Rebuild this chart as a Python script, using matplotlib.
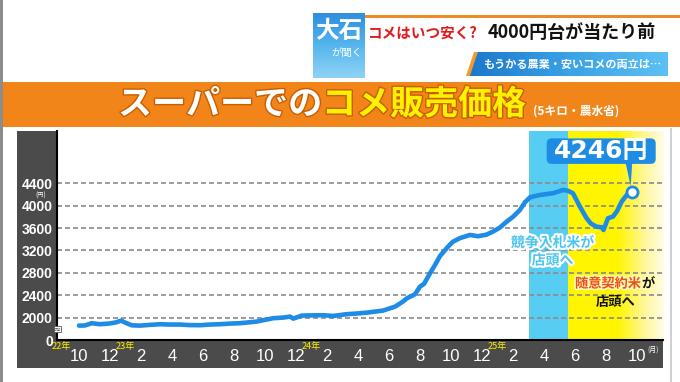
import matplotlib
matplotlib.use("Agg")
import matplotlib.pyplot as plt
import matplotlib.patheffects as pe
from matplotlib.patches import Rectangle, FancyBboxPatch, Polygon
from matplotlib.colors import LinearSegmentedColormap
import numpy as np

plt.rcParams['font.family'] = ['Noto Sans CJK JP', 'DejaVu Sans']

# months counted from Oct 2022 (0 = Oct 2022, 36 = Oct 2025)
month_pos = [0.0, 0.39, 0.82, 1.35, 1.97, 2.39, 2.71, 3.03, 3.42, 3.94,
             4.58, 5.23, 5.87, 6.52, 7.16, 7.81, 8.45, 9.10, 9.74, 10.39,
             11.46, 12.52, 13.16, 13.61, 13.83, 14.37, 15.03, 15.74, 16.39, 17.27,
             17.87, 18.56, 19.61, 20.39, 20.90, 21.16, 21.68, 22.00, 22.26, 22.65,
             22.97, 23.29, 23.81, 24.13, 24.58, 25.23, 25.74, 26.26, 26.71, 27.16,
             27.59, 28.0, 28.45, 28.77, 29.10, 29.74, 30.58, 30.90, 31.23, 31.55,
             31.87, 32.32, 32.75, 33.03, 33.39, 33.72, 33.84, 34.13, 34.45, 34.71,
             35.01, 35.34, 35.66]
# 5kg price in yen
prices = [1857, 1860, 1900, 1882, 1895, 1915, 1946, 1905, 1862, 1857,
          1870, 1882, 1876, 1876, 1866, 1864, 1876, 1882, 1893, 1900,
          1929, 1989, 2000, 2018, 1982, 2036, 2040, 2043, 2030, 2061,
          2072, 2089, 2125, 2196, 2286, 2346, 2418, 2554, 2602, 2793,
          2941, 3100, 3268, 3357, 3420, 3477, 3454, 3480, 3536, 3610,
          3714, 3800, 3924, 4060, 4150, 4191, 4222, 4250, 4281, 4265,
          4222, 3982, 3775, 3680, 3625, 3614, 3566, 3775, 3804, 3900,
          4071, 4191, 4246]

x_ticks = list(range(0, 37, 2))
x_labels = [str((9 + m) % 12 + 1) for m in x_ticks]
y_ticks = [1600, 2000, 2400, 2800, 3200, 3600, 4000, 4400]
y_labels = ['0', '2000', '2400', '2800', '3200', '3600', '4000', '4400']
year_labels = ['22年', '23年', '24年', '25年']
year_pos = [-1.15, 3, 15, 27]

# periods: bid rice in stores / contract rice in stores
bid_period = (29.03, 31.55)
contract_period = (31.55, 37.7)

BLUE = '#1E8BE4'
DARK = '#4B4B4B'

fig = plt.figure(figsize=(6.8, 3.82), dpi=100)

# background layer in pixel coordinates (y down)
bg = fig.add_axes([0, 0, 1, 1])
bg.set_xlim(0, 680)
bg.set_ylim(382, 0)
bg.axis('off')
bg.set_zorder(0)

bg.add_patch(Rectangle((0, 0), 2.5, 382, color='#8c8c8c', lw=0))
bg.add_patch(Rectangle((670, 128), 1.5, 254, color='#d0d0d0', lw=0))

# --- header ---
logo_grad = np.linspace(0, 1, 64).reshape(-1, 1)
logo_cmap = LinearSegmentedColormap.from_list('logo', ['#2E8EE0', '#56B6EE', '#8FD3F5'])
bg.imshow(logo_grad, extent=[313, 365, 78, 13], cmap=logo_cmap, aspect='auto', zorder=2)
bg.text(339, 31, '大石', color='white', fontsize=17, fontweight='bold',
        ha='center', va='center', zorder=3)
bg.text(347, 53, 'が聞く', color='white', fontsize=7.5, ha='center', va='center', zorder=3)

bg.add_patch(Rectangle((365, 15), 315, 2.5, color='#F08A24', lw=0, zorder=2))
bg.text(368, 33, 'コメはいつ安く?', color='#E11B1B', fontsize=10.5, fontweight='bold',
        ha='left', va='center', zorder=3)
bg.text(488, 33, '4000円台が当たり前', color='#111111', fontsize=13, fontweight='bold',
        ha='left', va='center', zorder=3)

bg.add_patch(Polygon([(466, 76), (474, 52), (480, 52), (472, 76)], closed=True,
                     color='#F39A2A', lw=0, zorder=2))
sub = Polygon([(478, 52), (668, 52), (668, 76), (470, 76)], closed=True,
              fc='#2A8FDB', lw=0, zorder=2)
bg.add_patch(sub)
sub_grad = np.linspace(0, 1, 64).reshape(1, -1)
sub_cmap = LinearSegmentedColormap.from_list('sub', ['#1C78CC', '#3AA2E6', '#5CC0F2'])
im = bg.imshow(sub_grad, extent=[470, 668, 76, 52], cmap=sub_cmap, aspect='auto', zorder=2)
im.set_clip_path(sub)
bg.text(572, 64.5, 'もうかる農業・安いコメの両立は…', color='white', fontsize=8,
        fontweight='bold', ha='center', va='center', zorder=3)

# --- orange banner ---
bg.add_patch(Rectangle((2.5, 82), 677.5, 45, color='#F28519', lw=0, zorder=1))
stroke = [pe.withStroke(linewidth=2, foreground='#C95E00')]
bg.text(322, 104, 'スーパーでの', color='white', fontsize=24.5, fontweight='bold',
        ha='right', va='center', zorder=3, path_effects=stroke)
bg.text(322, 104, 'コメ販売価格', color='#FFF200', fontsize=24.5, fontweight='bold',
        ha='left', va='center', zorder=3, path_effects=stroke)
bg.text(533, 111, '(5キロ・農水省)', color='white', fontsize=8.5, fontweight='bold',
        ha='left', va='center', zorder=3)

# --- dark axis panels ---
bg.add_patch(Rectangle((17, 131), 40, 237, color=DARK, lw=0, zorder=1))
bg.add_patch(Rectangle((17, 340), 646, 28, color=DARK, lw=0, zorder=1))

# --- chart ---
ax = fig.add_axes([57 / 680, (382 - 340) / 382, 606 / 680, 209 / 382])
ax.set_zorder(1)
ax.patch.set_alpha(0)

ax.axvspan(*bid_period, color='#58CDF3', lw=0, zorder=0.4)
yel_cmap = LinearSegmentedColormap.from_list(
    'yel', [(0, '#FFF500'), (0.52, '#FFF500'), (0.8, '#FFF79A'), (1, '#FFFCE6')])
ax.imshow(np.linspace(0, 1, 128).reshape(1, -1),
          extent=[contract_period[0], contract_period[1], 1600, 5334],
          cmap=yel_cmap, aspect='auto', zorder=0.4)

for v in y_ticks[1:]:
    ax.axhline(v, color='#8a8a8a', lw=1.2, dashes=(3, 1.8), zorder=1)

ax.plot(month_pos, prices, color=BLUE, lw=3.3, solid_capstyle='round',
        solid_joinstyle='round', zorder=3)
ax.plot(month_pos[-1], prices[-1], 'o', ms=8, mfc='white', mec=BLUE, mew=2, zorder=4)

ax.set_xlim(-1.42, 37.68)
ax.set_ylim(1600, 5334)
ax.set_xticks(x_ticks)
ax.set_xticklabels(x_labels, family=['Liberation Sans Narrow', 'Liberation Sans'],
                   fontsize=12, color='white')
ax.set_yticks(y_ticks)
ax.set_yticklabels(y_labels, family=['Liberation Sans', 'DejaVu Sans'],
                   fontsize=10, fontweight='bold', color='white')
ax.tick_params(axis='both', length=0)
ax.tick_params(axis='x', pad=6.5)
ax.tick_params(axis='y', pad=3)
for s in ['top', 'right']:
    ax.spines[s].set_visible(False)
ax.spines['left'].set_color('black')
ax.spines['bottom'].set_color('black')
ax.spines['left'].set_linewidth(1.5)
ax.spines['bottom'].set_linewidth(1.5)

# overlay layer in pixel coordinates
ov = fig.add_axes([0, 0, 1, 1])
ov.set_xlim(0, 680)
ov.set_ylim(382, 0)
ov.axis('off')
ov.set_zorder(3)
ov.patch.set_alpha(0)


def to_px(m, v):
    dx, dy = ax.transData.transform((m, v))
    return dx * 680 / fig.bbox.width, 382 - dy * 382 / fig.bbox.height


for lab, m in zip(year_labels, year_pos):
    xp, _ = to_px(m, 1600)
    ov.text(xp, 346, lab, color='#FFF200', fontsize=6.5, ha='center', va='center')
xp, _ = to_px(x_ticks[-1], 1600)
ov.text(xp + 16.5, 350, '(月)', color='white', fontsize=5, ha='center', va='center')
ov.text(41, 195.5, '(円)', color='white', fontsize=4.5, ha='center', va='center')

# axis break mark
_, yb = to_px(0, 1800)
ov.add_patch(Rectangle((53.5, yb - 3), 7, 6, fc='white', ec='#555555', lw=0.6))
ov.text(57, yb, '≈', color='#333333', fontsize=6, ha='center', va='center',
        family='DejaVu Sans')

# callout for last price
px, py = to_px(month_pos[-1], prices[-1])
ov.add_patch(FancyBboxPatch((px - 85, py - 53.5), 109, 25.5,
                            boxstyle='round,pad=0,rounding_size=5', fc=BLUE, lw=0))
ov.add_patch(Polygon([(px - 6, py - 29), (px + 0.5, py - 29), (px - 1, py - 5.5)],
                     closed=True, fc=BLUE, lw=0))
ov.text(px - 31, py - 40.5, f'{prices[-1]}円', color='white', fontsize=18,
        fontweight='bold', ha='center', va='center',
        family=['DejaVu Sans', 'Noto Sans CJK JP'])

# period annotations
white_stroke = [pe.withStroke(linewidth=3, foreground='white')]
bx, _ = to_px(bid_period[1] - 1.0, 1600)
ov.text(bx, 243, '競争入札米が', color='#4CC4EE', fontsize=10, fontweight='bold',
        ha='center', va='center', path_effects=white_stroke)
ov.text(bx, 260.5, '店頭へ', color='#4CC4EE', fontsize=10, fontweight='bold',
        ha='center', va='center', path_effects=white_stroke)

cx, _ = to_px(contract_period[0], 1600)
glow = [pe.withStroke(linewidth=2.5, foreground='#FFFBB0')]
ov.text(cx + 7, 283.5, '随意契約米', color='#EE4B1E', fontsize=9.5, fontweight='bold',
        ha='left', va='center', path_effects=glow)
ov.text(cx + 74, 283.5, 'が', color='#111111', fontsize=9.5, fontweight='bold',
        ha='left', va='center', path_effects=glow)
ov.text(cx + 48, 302, '店頭へ', color='#111111', fontsize=9.5, fontweight='bold',
        ha='center', va='center')

fig.savefig('out.png', dpi=100)
